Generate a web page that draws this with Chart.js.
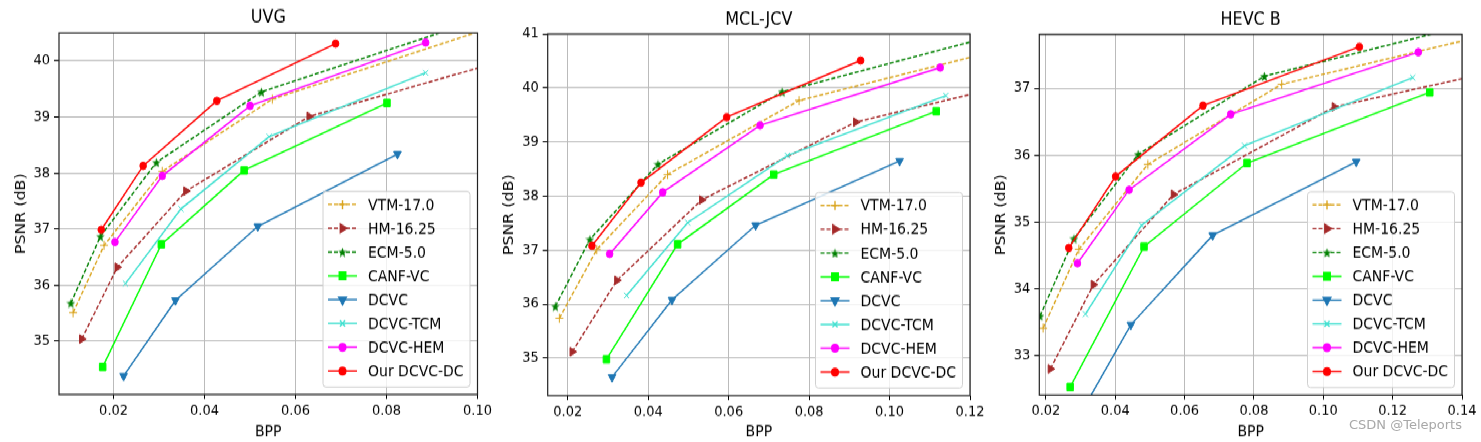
<!DOCTYPE html>
<html>
<head>
<meta charset="utf-8">
<script src="https://cdn.jsdelivr.net/npm/chart.js@4.4.0/dist/chart.umd.min.js"></script>
<style>
  body { margin: 0; background: #fff; }
  #wrap { position: relative; width: 1481px; height: 442px; overflow: hidden; }
  /* the reference figure is slightly stretched vertically */
  #plots { position: absolute; left: 0; top: 0; width: 1481px; height: 391px; transform: scaleY(1.1304); transform-origin: 0 0; }
  #plots canvas { position: absolute; left: 0; top: 0; }
  #mark { position: absolute; left: 1349px; top: 417px; font: 13px 'DejaVu Sans', sans-serif; color: #a8a8a8; }
</style>
</head>
<body>
<div id="wrap">
  <div id="plots">
    <canvas id="c1" width="1481" height="391"></canvas>
    <canvas id="c2" width="1481" height="391"></canvas>
    <canvas id="c3" width="1481" height="391"></canvas>
  </div>
  <div id="mark">CSDN @Teleports</div>
</div>
<script>
// series names, legend order
const seriesNames = ['VTM-17.0', 'HM-16.25', 'ECM-5.0', 'CANF-VC', 'DCVC', 'DCVC-TCM', 'DCVC-HEM', 'Our DCVC-DC'];

// UVG  [bpp, psnr]
const uvgVTM  = [[0.0111, 35.51], [0.0179, 36.71], [0.0307, 38.03], [0.0549, 39.32], [0.105, 40.65]];
const uvgHM   = [[0.0130, 35.04], [0.0208, 36.32], [0.0359, 37.68], [0.0630, 39.01], [0.108, 40.06]];
const uvgECM  = [[0.0106, 35.68], [0.0171, 36.87], [0.0294, 38.19], [0.0525, 39.45], [0.095, 40.59]];
const uvgCANF = [[0.0176, 34.54], [0.0305, 36.73], [0.0487, 38.05], [0.0801, 39.25]];
const uvgDCVC = [[0.0222, 34.38], [0.0336, 35.73], [0.0517, 37.05], [0.0824, 38.34]];
const uvgTCM  = [[0.0226, 36.03], [0.0348, 37.36], [0.0542, 38.65], [0.0886, 39.79]];
const uvgHEM  = [[0.0203, 36.77], [0.0307, 37.95], [0.0500, 39.20], [0.0886, 40.33]];
const uvgOurs = [[0.0173, 36.99], [0.0265, 38.13], [0.0427, 39.29], [0.0688, 40.31]];

// MCL-JCV
const mclVTM  = [[0.0179, 35.74], [0.0272, 37.01], [0.0448, 38.40], [0.0775, 39.77], [0.125, 40.66]];
const mclHM   = [[0.0211, 35.12], [0.0322, 36.44], [0.0533, 37.93], [0.0916, 39.37], [0.125, 39.97]];
const mclECM  = [[0.0169, 35.96], [0.0255, 37.20], [0.0424, 38.59], [0.0733, 39.93], [0.125, 40.95]];
const mclCANF = [[0.0296, 34.98], [0.0473, 37.11], [0.0712, 38.40], [0.1116, 39.57]];
const mclDCVC = [[0.0310, 34.65], [0.0459, 36.08], [0.0667, 37.46], [0.1025, 38.65]];
const mclTCM  = [[0.0346, 36.16], [0.0498, 37.51], [0.0746, 38.75], [0.1140, 39.86]];
const mclHEM  = [[0.0304, 36.93], [0.0436, 38.07], [0.0678, 39.31], [0.1126, 40.38]];
const mclOurs = [[0.0260, 37.08], [0.0382, 38.25], [0.0595, 39.46], [0.0928, 40.51]];

// HEVC B
const hevcVTM  = [[0.0192, 33.41], [0.0295, 34.59], [0.0494, 35.86], [0.0880, 37.06], [0.145, 37.77]];
const hevcHM   = [[0.0213, 32.80], [0.0337, 34.06], [0.0568, 35.41], [0.1032, 36.72], [0.145, 37.20]];
const hevcECM  = [[0.0183, 33.59], [0.0281, 34.75], [0.0466, 36.01], [0.0830, 37.18], [0.145, 37.99]];
const hevcCANF = [[0.0270, 32.53], [0.0483, 34.63], [0.0780, 35.88], [0.1307, 36.94]];
const hevcDCVC = [[0.0300, 32.13], [0.0445, 33.46], [0.0681, 34.80], [0.1095, 35.90]];
const hevcTCM  = [[0.0314, 33.62], [0.0476, 34.95], [0.0773, 36.14], [0.1258, 37.16]];
const hevcHEM  = [[0.0291, 34.38], [0.0440, 35.48], [0.0733, 36.61], [0.1274, 37.54]];
const hevcOurs = [[0.0266, 34.61], [0.0401, 35.68], [0.0653, 36.74], [0.1104, 37.62]];

// axis limits per panel
const uvgX = [0.008, 0.10], uvgY = [34.05, 40.5];
const mclX = [0.015, 0.12], mclY = [34.31, 41];
const hevcX = [0.0181, 0.14], hevcY = [32.41, 37.805];

const CANVAS_H = 391;

Chart.defaults.font.family = "'DejaVu Sans', sans-serif";
Chart.defaults.color = '#000';

function makeStar(color, size) {
    const c = document.createElement('canvas');
    c.width = c.height = size;
    const g = c.getContext('2d');
    g.fillStyle = color;
    g.beginPath();
    for (let i = 0; i < 10; i++) {
        const r = i % 2 === 0 ? size / 2 : size / 4.6;
        const a = -Math.PI / 2 + i * Math.PI / 5;
        g.lineTo(size / 2 + r * Math.cos(a), size / 2 + 0.5 + r * Math.sin(a));
    }
    g.closePath();
    g.fill();
    return c;
}

const seriesStyles = [
    { color: '#daa520', dash: [4, 2], point: 'cross', radius: 4, rot: 0 },
    { color: '#a52a2a', dash: [4, 2], point: 'triangle', radius: 4.4, rot: 90 },
    { color: '#008000', dash: [4, 2], point: makeStar('#008000', 9), radius: 4, rot: 0 },
    { color: '#00ff00', dash: [], point: 'rect', radius: 4.6, rot: 0 },
    { color: '#1f77b4', dash: [], point: 'triangle', radius: 4.4, rot: 180 },
    { color: '#40e0d0', dash: [], point: 'crossRot', radius: 3.6, rot: 0 },
    { color: '#ff00ff', dash: [], point: 'circle', radius: 3.3, rot: 0 },
    { color: '#ff0000', dash: [], point: 'circle', radius: 3.3, rot: 0 }
];

// frame around the axes + legend box in the lower right
const framePlugin = {
    id: 'frame',
    afterDatasetsDraw(chart) {
        const { ctx, chartArea: a } = chart;
        ctx.save();
        ctx.strokeStyle = '#222';
        ctx.lineWidth = 1.2;
        ctx.strokeRect(a.left, a.top, a.right - a.left, a.bottom - a.top);

        const w = 147, h = 173;
        const x = a.right - 7.5 - w, y = a.bottom - 6.6 - h;
        ctx.beginPath();
        ctx.roundRect(x, y, w, h, 3);
        ctx.fillStyle = 'rgba(255,255,255,0.8)';
        ctx.fill();
        ctx.strokeStyle = '#d0d0d0';
        ctx.lineWidth = 1;
        ctx.stroke();

        ctx.font = "14px 'DejaVu Sans', sans-serif";
        ctx.textBaseline = 'middle';
        chart.data.datasets.forEach((ds, i) => {
            const cy = y + 11.5 + i * 21.05;
            ctx.strokeStyle = ds.borderColor;
            ctx.lineWidth = ds.borderWidth;
            ctx.setLineDash(ds.borderDash);
            ctx.beginPath();
            ctx.moveTo(x + 5, cy);
            ctx.lineTo(x + 34, cy);
            ctx.stroke();
            ctx.setLineDash([]);
            ctx.fillStyle = ds.pointBackgroundColor;
            ctx.strokeStyle = ds.pointBorderColor;
            Chart.helpers.drawPoint(ctx, {
                pointStyle: ds.pointStyle, radius: ds.pointRadius,
                rotation: ds.pointRotation, borderWidth: 1
            }, x + 19.5, cy);
            ctx.fillStyle = '#000';
            ctx.fillText(ds.label, x + 45, cy + 1);
        });
        ctx.restore();
    }
};

function buildChart(canvasId, title, series, xLim, yLim, area, titlePad) {
    const datasets = series.map((pts, i) => {
        const s = seriesStyles[i];
        return {
            label: seriesNames[i],
            data: pts.map(p => ({ x: p[0], y: p[1] })),
            borderColor: s.color,
            borderWidth: 1.4,
            borderDash: s.dash,
            pointStyle: s.point,
            pointRadius: s.radius,
            pointRotation: s.rot,
            pointBackgroundColor: s.color,
            pointBorderColor: s.color,
            pointBorderWidth: 1,
            tension: 0,
            order: series.length - i
        };
    });

    return new Chart(document.getElementById(canvasId), {
        type: 'line',
        data: { datasets },
        plugins: [framePlugin],
        options: {
            responsive: false,
            animation: false,
            events: [],
            layout: { padding: { left: area.left - 48, right: 1481 - area.right, top: 0, bottom: 0 } },
            plugins: {
                legend: { display: false },
                tooltip: { enabled: false },
                title: {
                    display: true,
                    text: title,
                    fullSize: false,
                    font: { size: 16, weight: 'normal' },
                    color: '#000',
                    padding: { top: titlePad, bottom: area.top - titlePad - 19.2 }
                }
            },
            scales: {
                x: {
                    type: 'linear',
                    min: xLim[0],
                    max: xLim[1],
                    afterFit(scale) {
                        scale.height = CANVAS_H - area.bottom;
                        scale.paddingLeft = 0;
                        scale.paddingRight = 0;
                    },
                    ticks: {
                        stepSize: 0.02,
                        includeBounds: false,
                        padding: 2.8,
                        font: { size: 13 },
                        color: '#000',
                        callback: v => v.toFixed(2)
                    },
                    grid: { color: '#bbbbbb', lineWidth: 1, tickLength: 4, tickColor: '#000' },
                    border: { display: false },
                    title: { display: true, text: 'BPP', font: { size: 14 }, color: '#000', padding: { top: 0, bottom: 0.4 } }
                },
                y: {
                    type: 'linear',
                    min: yLim[0],
                    max: yLim[1],
                    afterFit(scale) {
                        scale.width = 48;
                        scale.paddingTop = 0;
                        scale.paddingBottom = 0;
                    },
                    ticks: {
                        stepSize: 1,
                        includeBounds: false,
                        padding: 4,
                        font: { size: 13 },
                        color: '#000',
                        callback: v => v.toFixed(0)
                    },
                    grid: { color: '#bbbbbb', lineWidth: 1, tickLength: 5, tickColor: '#000' },
                    border: { display: false },
                    title: { display: true, text: 'PSNR (dB)', font: { size: 14 }, color: '#000', padding: { top: 1.5, bottom: 0 } }
                }
            }
        }
    });
}

// chart areas in canvas units (reference pixels / 1.1304 vertically)
buildChart('c1', 'UVG',
    [uvgVTM, uvgHM, uvgECM, uvgCANF, uvgDCVC, uvgTCM, uvgHEM, uvgOurs],
    uvgX, uvgY, { left: 59, top: 29.2, right: 477.5, bottom: 349.0 }, 6.6);
buildChart('c2', 'MCL-JCV',
    [mclVTM, mclHM, mclECM, mclCANF, mclDCVC, mclTCM, mclHEM, mclOurs],
    mclX, mclY, { left: 547.7, top: 30.1, right: 970, bottom: 349.9 }, 8.1);
buildChart('c3', 'HEVC B',
    [hevcVTM, hevcHM, hevcECM, hevcCANF, hevcDCVC, hevcTCM, hevcHEM, hevcOurs],
    hevcX, hevcY, { left: 1039.3, top: 30.5, right: 1462, bottom: 349.4 }, 8.1);
</script>
</body>
</html>
